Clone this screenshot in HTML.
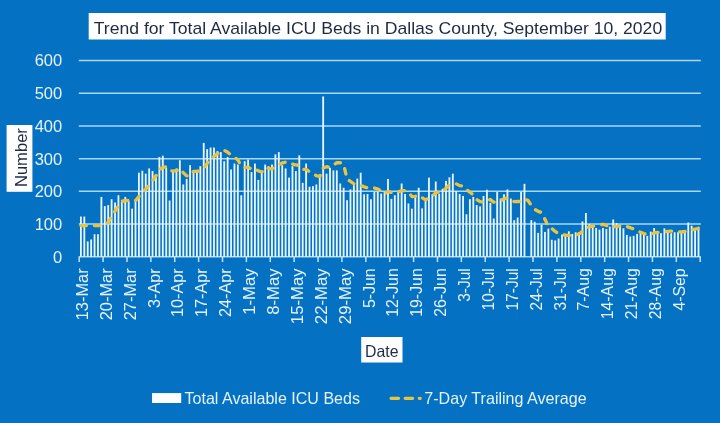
<!DOCTYPE html>
<html><head><meta charset="utf-8"><title>Trend for Total Available ICU Beds in Dallas County</title>
<style>
html,body{margin:0;padding:0;background:#0571C3;}
body{width:720px;height:423px;overflow:hidden;position:relative;font-family:"Liberation Sans",sans-serif;}
svg{position:absolute;left:0;top:0;display:block}
text{font-family:"Liberation Sans",sans-serif;}
</style></head><body>
<svg width="720" height="423" viewBox="0 0 720 423">
<rect x="0" y="0" width="720" height="423" fill="#0571C3"/>

<line x1="78.8" x2="700.8" y1="256.80" y2="256.80" stroke="#A9D8FA" stroke-width="1.5"/>
<line x1="78.8" x2="700.8" y1="224.08" y2="224.08" stroke="#A9D8FA" stroke-width="1.5"/>
<line x1="78.8" x2="700.8" y1="191.36" y2="191.36" stroke="#A9D8FA" stroke-width="1.5"/>
<line x1="78.8" x2="700.8" y1="158.64" y2="158.64" stroke="#A9D8FA" stroke-width="1.5"/>
<line x1="78.8" x2="700.8" y1="125.92" y2="125.92" stroke="#A9D8FA" stroke-width="1.5"/>
<line x1="78.8" x2="700.8" y1="93.20" y2="93.20" stroke="#A9D8FA" stroke-width="1.5"/>
<line x1="78.8" x2="700.8" y1="60.48" y2="60.48" stroke="#A9D8FA" stroke-width="1.5"/>
<g fill="#E6F5FF">
<rect x="79.99" y="216.55" width="1.84" height="40.25"/>
<rect x="83.40" y="216.55" width="1.84" height="40.25"/>
<rect x="86.81" y="241.42" width="1.84" height="15.38"/>
<rect x="90.22" y="239.46" width="1.84" height="17.34"/>
<rect x="93.63" y="234.22" width="1.84" height="22.58"/>
<rect x="97.05" y="234.22" width="1.84" height="22.58"/>
<rect x="100.46" y="196.92" width="1.84" height="59.88"/>
<rect x="103.87" y="206.08" width="1.84" height="50.72"/>
<rect x="107.28" y="205.10" width="1.84" height="51.70"/>
<rect x="110.69" y="199.21" width="1.84" height="57.59"/>
<rect x="114.11" y="202.48" width="1.84" height="54.32"/>
<rect x="117.52" y="195.29" width="1.84" height="61.51"/>
<rect x="120.93" y="201.83" width="1.84" height="54.97"/>
<rect x="124.34" y="196.92" width="1.84" height="59.88"/>
<rect x="127.76" y="201.18" width="1.84" height="55.62"/>
<rect x="131.17" y="208.70" width="1.84" height="48.10"/>
<rect x="134.58" y="199.21" width="1.84" height="57.59"/>
<rect x="137.99" y="172.71" width="1.84" height="84.09"/>
<rect x="141.40" y="170.75" width="1.84" height="86.05"/>
<rect x="144.82" y="173.69" width="1.84" height="83.11"/>
<rect x="148.23" y="168.46" width="1.84" height="88.34"/>
<rect x="151.64" y="171.07" width="1.84" height="85.73"/>
<rect x="155.05" y="174.35" width="1.84" height="82.45"/>
<rect x="158.46" y="157.00" width="1.84" height="99.80"/>
<rect x="161.88" y="155.70" width="1.84" height="101.10"/>
<rect x="165.29" y="167.80" width="1.84" height="89.00"/>
<rect x="168.70" y="200.52" width="1.84" height="56.28"/>
<rect x="172.11" y="171.07" width="1.84" height="85.73"/>
<rect x="175.52" y="168.46" width="1.84" height="88.34"/>
<rect x="178.94" y="160.28" width="1.84" height="96.52"/>
<rect x="182.35" y="184.49" width="1.84" height="72.31"/>
<rect x="185.76" y="178.93" width="1.84" height="77.87"/>
<rect x="189.17" y="165.18" width="1.84" height="91.62"/>
<rect x="192.58" y="171.07" width="1.84" height="85.73"/>
<rect x="196.00" y="170.42" width="1.84" height="86.38"/>
<rect x="199.41" y="166.17" width="1.84" height="90.63"/>
<rect x="202.82" y="142.93" width="1.84" height="113.87"/>
<rect x="206.23" y="149.15" width="1.84" height="107.65"/>
<rect x="209.65" y="147.52" width="1.84" height="109.28"/>
<rect x="213.06" y="147.52" width="1.84" height="109.28"/>
<rect x="216.47" y="151.11" width="1.84" height="105.69"/>
<rect x="219.88" y="152.10" width="1.84" height="104.70"/>
<rect x="223.29" y="161.26" width="1.84" height="95.54"/>
<rect x="226.71" y="157.00" width="1.84" height="99.80"/>
<rect x="230.12" y="169.44" width="1.84" height="87.36"/>
<rect x="233.53" y="163.55" width="1.84" height="93.25"/>
<rect x="236.94" y="164.53" width="1.84" height="92.27"/>
<rect x="240.35" y="195.29" width="1.84" height="61.51"/>
<rect x="243.77" y="161.26" width="1.84" height="95.54"/>
<rect x="247.18" y="159.62" width="1.84" height="97.18"/>
<rect x="250.59" y="172.06" width="1.84" height="84.74"/>
<rect x="254.00" y="163.55" width="1.84" height="93.25"/>
<rect x="257.41" y="179.91" width="1.84" height="76.89"/>
<rect x="260.83" y="172.71" width="1.84" height="84.09"/>
<rect x="264.24" y="164.53" width="1.84" height="92.27"/>
<rect x="267.65" y="166.17" width="1.84" height="90.63"/>
<rect x="271.06" y="164.53" width="1.84" height="92.27"/>
<rect x="274.48" y="154.39" width="1.84" height="102.41"/>
<rect x="277.89" y="152.10" width="1.84" height="104.70"/>
<rect x="281.30" y="165.18" width="1.84" height="91.62"/>
<rect x="284.71" y="168.46" width="1.84" height="88.34"/>
<rect x="288.12" y="177.62" width="1.84" height="79.18"/>
<rect x="291.54" y="166.17" width="1.84" height="90.63"/>
<rect x="294.95" y="171.07" width="1.84" height="85.73"/>
<rect x="298.36" y="155.37" width="1.84" height="101.43"/>
<rect x="301.77" y="182.85" width="1.84" height="73.95"/>
<rect x="305.18" y="163.55" width="1.84" height="93.25"/>
<rect x="308.60" y="186.78" width="1.84" height="70.02"/>
<rect x="312.01" y="186.12" width="1.84" height="70.68"/>
<rect x="315.42" y="184.49" width="1.84" height="72.31"/>
<rect x="318.83" y="175.98" width="1.84" height="80.82"/>
<rect x="322.24" y="96.47" width="1.84" height="160.33"/>
<rect x="325.66" y="173.69" width="1.84" height="83.11"/>
<rect x="329.07" y="167.80" width="1.84" height="89.00"/>
<rect x="332.48" y="170.42" width="1.84" height="86.38"/>
<rect x="335.89" y="170.42" width="1.84" height="86.38"/>
<rect x="339.30" y="183.51" width="1.84" height="73.29"/>
<rect x="342.72" y="187.76" width="1.84" height="69.04"/>
<rect x="346.13" y="200.19" width="1.84" height="56.61"/>
<rect x="349.54" y="189.40" width="1.84" height="67.40"/>
<rect x="352.95" y="185.14" width="1.84" height="71.66"/>
<rect x="356.37" y="178.60" width="1.84" height="78.20"/>
<rect x="359.78" y="172.71" width="1.84" height="84.09"/>
<rect x="363.19" y="194.30" width="1.84" height="62.50"/>
<rect x="366.60" y="193.98" width="1.84" height="62.82"/>
<rect x="370.01" y="199.21" width="1.84" height="57.59"/>
<rect x="373.43" y="192.01" width="1.84" height="64.79"/>
<rect x="376.84" y="192.01" width="1.84" height="64.79"/>
<rect x="380.25" y="193.65" width="1.84" height="63.15"/>
<rect x="383.66" y="192.01" width="1.84" height="64.79"/>
<rect x="387.07" y="178.93" width="1.84" height="77.87"/>
<rect x="390.49" y="198.89" width="1.84" height="57.91"/>
<rect x="393.90" y="195.29" width="1.84" height="61.51"/>
<rect x="397.31" y="192.01" width="1.84" height="64.79"/>
<rect x="400.72" y="183.51" width="1.84" height="73.29"/>
<rect x="404.13" y="193.98" width="1.84" height="62.82"/>
<rect x="407.55" y="203.47" width="1.84" height="53.33"/>
<rect x="410.96" y="208.70" width="1.84" height="48.10"/>
<rect x="414.37" y="197.58" width="1.84" height="59.22"/>
<rect x="417.78" y="187.76" width="1.84" height="69.04"/>
<rect x="421.19" y="208.37" width="1.84" height="48.43"/>
<rect x="424.61" y="200.19" width="1.84" height="56.61"/>
<rect x="428.02" y="177.62" width="1.84" height="79.18"/>
<rect x="431.43" y="194.30" width="1.84" height="62.50"/>
<rect x="434.84" y="181.54" width="1.84" height="75.26"/>
<rect x="438.26" y="193.65" width="1.84" height="63.15"/>
<rect x="441.67" y="188.74" width="1.84" height="68.06"/>
<rect x="445.08" y="180.89" width="1.84" height="75.91"/>
<rect x="448.49" y="177.29" width="1.84" height="79.51"/>
<rect x="451.90" y="173.69" width="1.84" height="83.11"/>
<rect x="455.32" y="191.03" width="1.84" height="65.77"/>
<rect x="458.73" y="193.98" width="1.84" height="62.82"/>
<rect x="462.14" y="195.94" width="1.84" height="60.86"/>
<rect x="465.55" y="214.26" width="1.84" height="42.54"/>
<rect x="468.96" y="199.21" width="1.84" height="57.59"/>
<rect x="472.38" y="196.92" width="1.84" height="59.88"/>
<rect x="475.79" y="205.10" width="1.84" height="51.70"/>
<rect x="479.20" y="206.41" width="1.84" height="50.39"/>
<rect x="482.61" y="195.94" width="1.84" height="60.86"/>
<rect x="486.02" y="189.72" width="1.84" height="67.08"/>
<rect x="489.44" y="202.81" width="1.84" height="53.99"/>
<rect x="492.85" y="218.52" width="1.84" height="38.28"/>
<rect x="496.26" y="192.01" width="1.84" height="64.79"/>
<rect x="499.67" y="198.56" width="1.84" height="58.24"/>
<rect x="503.08" y="194.30" width="1.84" height="62.50"/>
<rect x="506.50" y="189.40" width="1.84" height="67.40"/>
<rect x="509.91" y="198.56" width="1.84" height="58.24"/>
<rect x="513.32" y="220.15" width="1.84" height="36.65"/>
<rect x="516.73" y="217.54" width="1.84" height="39.26"/>
<rect x="520.15" y="192.01" width="1.84" height="64.79"/>
<rect x="523.56" y="183.83" width="1.84" height="72.97"/>
<rect x="530.38" y="220.15" width="1.84" height="36.65"/>
<rect x="533.79" y="221.79" width="1.84" height="35.01"/>
<rect x="537.21" y="232.91" width="1.84" height="23.89"/>
<rect x="540.62" y="224.73" width="1.84" height="32.07"/>
<rect x="544.03" y="231.93" width="1.84" height="24.87"/>
<rect x="547.44" y="228.66" width="1.84" height="28.14"/>
<rect x="550.85" y="239.79" width="1.84" height="17.01"/>
<rect x="554.27" y="240.44" width="1.84" height="16.36"/>
<rect x="557.68" y="238.48" width="1.84" height="18.32"/>
<rect x="561.09" y="234.55" width="1.84" height="22.25"/>
<rect x="564.50" y="233.90" width="1.84" height="22.90"/>
<rect x="567.91" y="231.28" width="1.84" height="25.52"/>
<rect x="571.33" y="233.90" width="1.84" height="22.90"/>
<rect x="574.74" y="232.26" width="1.84" height="24.54"/>
<rect x="578.15" y="232.26" width="1.84" height="24.54"/>
<rect x="581.56" y="221.46" width="1.84" height="35.34"/>
<rect x="584.98" y="212.96" width="1.84" height="43.84"/>
<rect x="588.39" y="224.08" width="1.84" height="32.72"/>
<rect x="591.80" y="225.72" width="1.84" height="31.08"/>
<rect x="595.21" y="228.01" width="1.84" height="28.79"/>
<rect x="598.62" y="229.64" width="1.84" height="27.16"/>
<rect x="602.04" y="228.01" width="1.84" height="28.79"/>
<rect x="605.45" y="228.99" width="1.84" height="27.81"/>
<rect x="608.86" y="226.70" width="1.84" height="30.10"/>
<rect x="612.27" y="219.50" width="1.84" height="37.30"/>
<rect x="615.68" y="223.10" width="1.84" height="33.70"/>
<rect x="619.10" y="224.73" width="1.84" height="32.07"/>
<rect x="622.51" y="228.33" width="1.84" height="28.47"/>
<rect x="625.92" y="234.88" width="1.84" height="21.92"/>
<rect x="629.33" y="236.51" width="1.84" height="20.29"/>
<rect x="632.74" y="235.86" width="1.84" height="20.94"/>
<rect x="636.16" y="233.90" width="1.84" height="22.90"/>
<rect x="639.57" y="231.61" width="1.84" height="25.19"/>
<rect x="642.98" y="233.90" width="1.84" height="22.90"/>
<rect x="646.39" y="235.86" width="1.84" height="20.94"/>
<rect x="649.80" y="231.61" width="1.84" height="25.19"/>
<rect x="653.22" y="228.01" width="1.84" height="28.79"/>
<rect x="656.63" y="231.61" width="1.84" height="25.19"/>
<rect x="660.04" y="233.24" width="1.84" height="23.56"/>
<rect x="663.45" y="228.33" width="1.84" height="28.47"/>
<rect x="666.87" y="231.61" width="1.84" height="25.19"/>
<rect x="670.28" y="233.24" width="1.84" height="23.56"/>
<rect x="673.69" y="232.26" width="1.84" height="24.54"/>
<rect x="677.10" y="232.26" width="1.84" height="24.54"/>
<rect x="680.51" y="232.26" width="1.84" height="24.54"/>
<rect x="683.93" y="230.62" width="1.84" height="26.18"/>
<rect x="687.34" y="222.44" width="1.84" height="34.36"/>
<rect x="690.75" y="225.72" width="1.84" height="31.08"/>
<rect x="694.16" y="228.99" width="1.84" height="27.81"/>
<rect x="697.57" y="226.70" width="1.84" height="30.10"/>
</g>
<line x1="79.20" x2="79.20" y1="256.80" y2="262.00" stroke="#C4E4FC" stroke-width="1.5"/>
<line x1="103.08" x2="103.08" y1="256.80" y2="262.00" stroke="#C4E4FC" stroke-width="1.5"/>
<line x1="126.97" x2="126.97" y1="256.80" y2="262.00" stroke="#C4E4FC" stroke-width="1.5"/>
<line x1="150.85" x2="150.85" y1="256.80" y2="262.00" stroke="#C4E4FC" stroke-width="1.5"/>
<line x1="174.74" x2="174.74" y1="256.80" y2="262.00" stroke="#C4E4FC" stroke-width="1.5"/>
<line x1="198.62" x2="198.62" y1="256.80" y2="262.00" stroke="#C4E4FC" stroke-width="1.5"/>
<line x1="222.51" x2="222.51" y1="256.80" y2="262.00" stroke="#C4E4FC" stroke-width="1.5"/>
<line x1="246.39" x2="246.39" y1="256.80" y2="262.00" stroke="#C4E4FC" stroke-width="1.5"/>
<line x1="270.28" x2="270.28" y1="256.80" y2="262.00" stroke="#C4E4FC" stroke-width="1.5"/>
<line x1="294.16" x2="294.16" y1="256.80" y2="262.00" stroke="#C4E4FC" stroke-width="1.5"/>
<line x1="318.05" x2="318.05" y1="256.80" y2="262.00" stroke="#C4E4FC" stroke-width="1.5"/>
<line x1="341.93" x2="341.93" y1="256.80" y2="262.00" stroke="#C4E4FC" stroke-width="1.5"/>
<line x1="365.82" x2="365.82" y1="256.80" y2="262.00" stroke="#C4E4FC" stroke-width="1.5"/>
<line x1="389.70" x2="389.70" y1="256.80" y2="262.00" stroke="#C4E4FC" stroke-width="1.5"/>
<line x1="413.58" x2="413.58" y1="256.80" y2="262.00" stroke="#C4E4FC" stroke-width="1.5"/>
<line x1="437.47" x2="437.47" y1="256.80" y2="262.00" stroke="#C4E4FC" stroke-width="1.5"/>
<line x1="461.35" x2="461.35" y1="256.80" y2="262.00" stroke="#C4E4FC" stroke-width="1.5"/>
<line x1="485.24" x2="485.24" y1="256.80" y2="262.00" stroke="#C4E4FC" stroke-width="1.5"/>
<line x1="509.12" x2="509.12" y1="256.80" y2="262.00" stroke="#C4E4FC" stroke-width="1.5"/>
<line x1="533.01" x2="533.01" y1="256.80" y2="262.00" stroke="#C4E4FC" stroke-width="1.5"/>
<line x1="556.89" x2="556.89" y1="256.80" y2="262.00" stroke="#C4E4FC" stroke-width="1.5"/>
<line x1="580.78" x2="580.78" y1="256.80" y2="262.00" stroke="#C4E4FC" stroke-width="1.5"/>
<line x1="604.66" x2="604.66" y1="256.80" y2="262.00" stroke="#C4E4FC" stroke-width="1.5"/>
<line x1="628.55" x2="628.55" y1="256.80" y2="262.00" stroke="#C4E4FC" stroke-width="1.5"/>
<line x1="652.43" x2="652.43" y1="256.80" y2="262.00" stroke="#C4E4FC" stroke-width="1.5"/>
<line x1="676.32" x2="676.32" y1="256.80" y2="262.00" stroke="#C4E4FC" stroke-width="1.5"/>
<line x1="700.20" x2="700.20" y1="256.80" y2="262.00" stroke="#C4E4FC" stroke-width="1.5"/>
<polyline points="80.91,225.55 84.32,225.55 87.73,225.55 91.14,225.55 94.55,225.55 97.97,225.55 101.38,225.62 104.79,224.13 108.20,222.49 111.61,216.46 115.03,211.18 118.44,205.62 121.85,200.99 125.26,200.99 128.68,200.29 132.09,200.80 135.50,200.80 138.91,196.55 142.32,193.04 145.74,189.02 149.15,184.96 152.56,180.66 155.97,175.75 159.38,169.72 162.80,167.29 166.21,166.87 169.62,170.70 173.03,171.07 176.44,170.70 179.86,168.69 183.27,172.62 186.68,175.93 190.09,175.56 193.50,171.35 196.92,171.26 200.33,170.93 203.74,168.46 207.15,163.41 210.57,158.92 213.98,156.40 217.39,153.55 220.80,150.93 224.21,150.23 227.63,152.24 231.04,155.13 234.45,157.42 237.86,159.86 241.27,166.17 244.69,167.47 248.10,167.24 251.51,169.39 254.92,168.55 258.33,170.89 261.75,172.06 265.16,167.66 268.57,168.36 271.98,169.06 275.40,166.54 278.81,164.90 282.22,162.80 285.63,162.19 289.04,164.06 292.46,164.06 295.87,165.00 299.28,165.14 302.69,169.53 306.10,169.30 309.52,171.91 312.93,173.13 316.34,175.75 319.75,176.45 323.16,168.04 326.58,166.73 329.99,167.33 333.40,165.00 336.81,162.75 340.22,162.61 343.64,164.30 347.05,179.11 350.46,181.36 353.87,183.83 357.29,185.00 360.70,185.33 364.11,186.87 367.52,187.76 370.93,187.62 374.35,187.99 377.76,188.98 381.17,191.13 384.58,193.88 387.99,191.69 391.41,192.39 394.82,191.83 398.23,191.83 401.64,190.61 405.05,190.66 408.47,192.29 411.88,196.55 415.29,196.36 418.70,195.29 422.11,197.62 425.53,200.01 428.94,197.67 432.35,196.36 435.76,192.48 439.18,191.92 442.59,192.06 446.00,188.13 449.41,184.86 452.82,184.30 456.24,183.83 459.65,185.61 463.06,185.94 466.47,189.58 469.88,192.20 473.30,195.01 476.71,199.49 480.12,201.69 483.53,201.97 486.94,201.08 490.36,199.45 493.77,202.20 497.18,201.50 500.59,200.57 504.00,198.84 507.42,197.90 510.83,199.17 514.24,201.64 517.65,201.50 521.07,201.50 524.48,199.40 527.89,200.25 531.30,205.38 534.71,209.25 538.13,211.37 541.54,212.57 544.95,219.23 548.36,226.70 551.77,228.57 555.19,231.47 558.60,233.85 562.01,234.08 565.42,235.39 568.83,235.30 572.25,236.05 575.66,234.97 579.07,233.80 582.48,231.37 585.90,228.29 589.31,226.88 592.72,226.09 596.13,225.25 599.54,224.87 602.96,224.27 606.37,225.34 609.78,227.31 613.19,226.65 616.60,226.28 620.02,225.81 623.43,225.62 626.84,226.60 630.25,227.68 633.66,228.99 637.08,231.04 640.49,232.26 643.90,233.57 647.31,234.64 650.72,234.18 654.14,232.96 657.55,232.35 660.96,232.26 664.37,231.79 667.79,231.47 671.20,231.09 674.61,231.18 678.02,231.79 681.43,231.89 684.85,231.51 688.26,230.67 691.67,229.83 695.08,229.22 698.49,228.43" fill="none" stroke="#E9C53F" stroke-width="3.3" stroke-linecap="round" stroke-linejoin="round" stroke-dasharray="5.5 8"/>
<text x="62.2" y="262.70" font-size="16.5" fill="#E4F3FF" text-anchor="end">0</text>
<text x="62.2" y="229.98" font-size="16.5" fill="#E4F3FF" text-anchor="end">100</text>
<text x="62.2" y="197.26" font-size="16.5" fill="#E4F3FF" text-anchor="end">200</text>
<text x="62.2" y="164.54" font-size="16.5" fill="#E4F3FF" text-anchor="end">300</text>
<text x="62.2" y="131.82" font-size="16.5" fill="#E4F3FF" text-anchor="end">400</text>
<text x="62.2" y="99.10" font-size="16.5" fill="#E4F3FF" text-anchor="end">500</text>
<text x="62.2" y="66.38" font-size="16.5" fill="#E4F3FF" text-anchor="end">600</text>
<text transform="translate(87.91,320.35) rotate(-90)" font-size="16.45" fill="#E4F3FF" textLength="52.05" lengthAdjust="spacingAndGlyphs">13-Mar</text>
<text transform="translate(111.79,320.35) rotate(-90)" font-size="16.45" fill="#E4F3FF" textLength="52.05" lengthAdjust="spacingAndGlyphs">20-Mar</text>
<text transform="translate(135.68,320.35) rotate(-90)" font-size="16.45" fill="#E4F3FF" textLength="52.05" lengthAdjust="spacingAndGlyphs">27-Mar</text>
<text transform="translate(159.56,307.88) rotate(-90)" font-size="16.45" fill="#E4F3FF" textLength="39.58" lengthAdjust="spacingAndGlyphs">3-Apr</text>
<text transform="translate(183.44,316.89) rotate(-90)" font-size="16.45" fill="#E4F3FF" textLength="48.59" lengthAdjust="spacingAndGlyphs">10-Apr</text>
<text transform="translate(207.33,316.89) rotate(-90)" font-size="16.45" fill="#E4F3FF" textLength="48.59" lengthAdjust="spacingAndGlyphs">17-Apr</text>
<text transform="translate(231.21,316.89) rotate(-90)" font-size="16.45" fill="#E4F3FF" textLength="48.59" lengthAdjust="spacingAndGlyphs">24-Apr</text>
<text transform="translate(255.10,314.87) rotate(-90)" font-size="16.45" fill="#E4F3FF" textLength="46.57" lengthAdjust="spacingAndGlyphs">1-May</text>
<text transform="translate(278.98,314.87) rotate(-90)" font-size="16.45" fill="#E4F3FF" textLength="46.57" lengthAdjust="spacingAndGlyphs">8-May</text>
<text transform="translate(302.87,324.19) rotate(-90)" font-size="16.45" fill="#E4F3FF" textLength="55.89" lengthAdjust="spacingAndGlyphs">15-May</text>
<text transform="translate(326.75,324.19) rotate(-90)" font-size="16.45" fill="#E4F3FF" textLength="55.89" lengthAdjust="spacingAndGlyphs">22-May</text>
<text transform="translate(350.64,324.19) rotate(-90)" font-size="16.45" fill="#E4F3FF" textLength="55.89" lengthAdjust="spacingAndGlyphs">29-May</text>
<text transform="translate(374.52,307.97) rotate(-90)" font-size="16.45" fill="#E4F3FF" textLength="39.67" lengthAdjust="spacingAndGlyphs">5-Jun</text>
<text transform="translate(398.41,316.79) rotate(-90)" font-size="16.45" fill="#E4F3FF" textLength="48.49" lengthAdjust="spacingAndGlyphs">12-Jun</text>
<text transform="translate(422.29,316.79) rotate(-90)" font-size="16.45" fill="#E4F3FF" textLength="48.49" lengthAdjust="spacingAndGlyphs">19-Jun</text>
<text transform="translate(446.18,316.79) rotate(-90)" font-size="16.45" fill="#E4F3FF" textLength="48.49" lengthAdjust="spacingAndGlyphs">26-Jun</text>
<text transform="translate(470.06,301.79) rotate(-90)" font-size="16.45" fill="#E4F3FF" textLength="33.49" lengthAdjust="spacingAndGlyphs">3-Jul</text>
<text transform="translate(493.94,310.38) rotate(-90)" font-size="16.45" fill="#E4F3FF" textLength="42.08" lengthAdjust="spacingAndGlyphs">10-Jul</text>
<text transform="translate(517.83,310.38) rotate(-90)" font-size="16.45" fill="#E4F3FF" textLength="42.08" lengthAdjust="spacingAndGlyphs">17-Jul</text>
<text transform="translate(541.71,310.38) rotate(-90)" font-size="16.45" fill="#E4F3FF" textLength="42.08" lengthAdjust="spacingAndGlyphs">24-Jul</text>
<text transform="translate(565.60,310.38) rotate(-90)" font-size="16.45" fill="#E4F3FF" textLength="42.08" lengthAdjust="spacingAndGlyphs">31-Jul</text>
<text transform="translate(589.48,310.41) rotate(-90)" font-size="16.45" fill="#E4F3FF" textLength="42.10" lengthAdjust="spacingAndGlyphs">7-Aug</text>
<text transform="translate(613.37,319.18) rotate(-90)" font-size="16.45" fill="#E4F3FF" textLength="50.88" lengthAdjust="spacingAndGlyphs">14-Aug</text>
<text transform="translate(637.25,319.18) rotate(-90)" font-size="16.45" fill="#E4F3FF" textLength="50.88" lengthAdjust="spacingAndGlyphs">21-Aug</text>
<text transform="translate(661.14,319.18) rotate(-90)" font-size="16.45" fill="#E4F3FF" textLength="50.88" lengthAdjust="spacingAndGlyphs">28-Aug</text>
<text transform="translate(685.02,310.62) rotate(-90)" font-size="16.45" fill="#E4F3FF" textLength="42.32" lengthAdjust="spacingAndGlyphs">4-Sep</text>
<rect x="88.7" y="13" width="577" height="26.5" fill="#FFFFFF"/>
<text x="93.7" y="33.6" font-size="17" fill="#1E2A44" textLength="568.5" lengthAdjust="spacingAndGlyphs">Trend for Total Available ICU Beds in Dallas County, September 10, 2020</text>
<rect x="6.6" y="125" width="25.8" height="66.8" fill="#FFFFFF"/>
<text transform="translate(26.6,187.1) rotate(-90)" font-size="16.5" fill="#1E2A44" textLength="59" lengthAdjust="spacingAndGlyphs">Number</text>
<rect x="361.2" y="337" width="41.3" height="25.5" fill="#FFFFFF"/>
<text x="365.0" y="356.6" font-size="16.5" fill="#1E2A44" textLength="33.5" lengthAdjust="spacingAndGlyphs">Date</text>
<rect x="152" y="393.1" width="29.2" height="9.9" fill="#FFFFFF"/>
<text x="184.5" y="404.2" font-size="16.5" fill="#E4F3FF" textLength="175.5" lengthAdjust="spacingAndGlyphs">Total Available ICU Beds</text>
<line x1="391.1" x2="420.2" y1="398.3" y2="398.3" stroke="#E9C53F" stroke-width="3.3" stroke-linecap="round" stroke-dasharray="7.4 6.7"/>
<text x="424.3" y="404.2" font-size="16.5" fill="#E4F3FF" textLength="162.4" lengthAdjust="spacingAndGlyphs">7-Day Trailing Average</text>
</svg></body></html>
